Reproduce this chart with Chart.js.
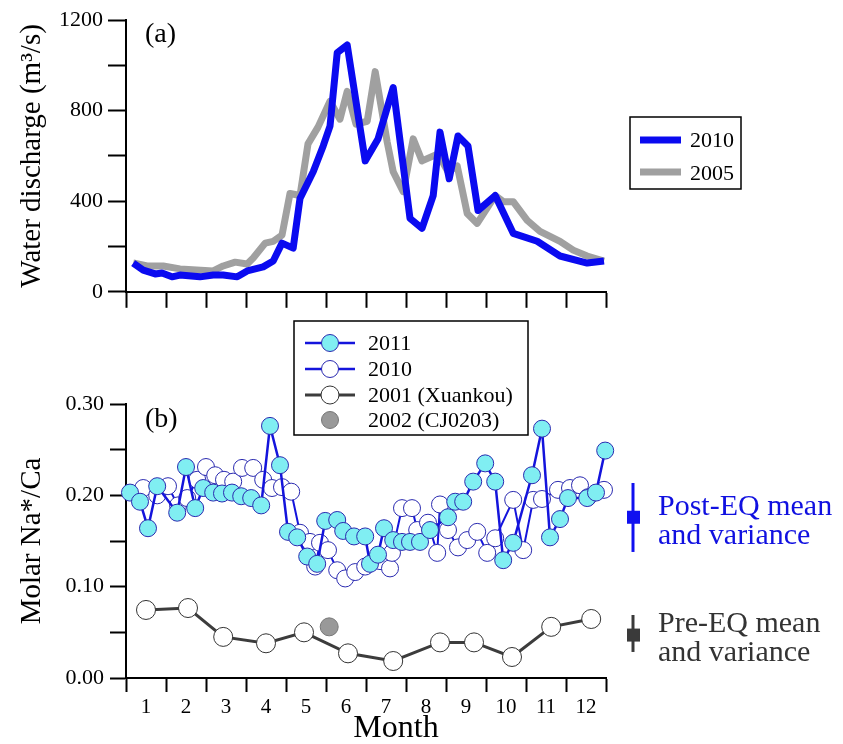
<!DOCTYPE html>
<html>
<head>
<meta charset="utf-8">
<script src="https://cdn.jsdelivr.net/npm/chart.js@4.4.1/dist/chart.umd.min.js"></script>
<style>
  body { margin: 0; background: #fff; }
  #wrap { position: relative; width: 843px; height: 744px; }
  #topChart { position: absolute; left: 0; top: 0; }
  #bottomChart { position: absolute; left: 0; top: 310px; }
</style>
</head>
<body>
<div id="wrap">
  <canvas id="topChart" width="843" height="310"></canvas>
  <canvas id="bottomChart" width="843" height="434"></canvas>
</div>
<script>
'use strict';

/* (a) water discharge, month position + value */
const q2010Month = [0.18, 0.43, 0.73, 0.9, 1.15, 1.35, 1.85, 2.18, 2.43, 2.78, 3.03, 3.43, 3.68, 3.9, 4.18, 4.35, 4.68, 4.93, 5.1, 5.28, 5.53, 5.98, 6.3, 6.68, 7.1, 7.4, 7.68, 7.85, 8.08, 8.3, 8.55, 8.8, 9.23, 9.68, 10.28, 10.85, 11.53, 11.95];
const q2010 = [127, 96, 79, 83, 66, 74, 66, 74, 74, 66, 92, 110, 136, 215, 193, 412, 530, 644, 731, 1055, 1090, 578, 675, 902, 324, 280, 425, 705, 499, 688, 644, 359, 425, 258, 223, 158, 127, 136];
const q2005Month = [0.18, 0.53, 0.93, 1.35, 2.18, 2.43, 2.73, 3.03, 3.18, 3.48, 3.68, 3.9, 4.1, 4.35, 4.55, 4.8, 5.1, 5.35, 5.53, 5.75, 6.03, 6.23, 6.53, 6.68, 6.93, 7.18, 7.4, 7.8, 8.05, 8.28, 8.53, 8.78, 9.23, 9.43, 9.68, 10.03, 10.35, 10.85, 11.18, 11.53, 11.95];
const q2005 = [127, 114, 114, 101, 92, 114, 131, 123, 149, 215, 223, 250, 434, 425, 653, 727, 841, 762, 885, 740, 753, 972, 661, 530, 442, 675, 578, 609, 530, 556, 346, 302, 425, 398, 398, 315, 267, 223, 184, 158, 136];

// (b) molar Na* over Ca
const na2011Month = [0.1, 0.35, 0.55, 0.78, 1.28, 1.5, 1.73, 1.93, 2.18, 2.4, 2.65, 2.88, 3.13, 3.38, 3.6, 3.85, 4.05, 4.28, 4.53, 4.78, 4.98, 5.28, 5.43, 5.7, 5.98, 6.1, 6.3, 6.45, 6.68, 6.9, 7.1, 7.35, 7.6, 8.05, 8.23, 8.43, 8.68, 8.98, 9.23, 9.43, 9.68, 10.15, 10.4, 10.6, 10.85, 11.05, 11.53, 11.75, 11.98];
const na2011 = [0.203, 0.193, 0.164, 0.210, 0.181, 0.231, 0.186, 0.208, 0.203, 0.202, 0.203, 0.199, 0.197, 0.189, 0.276, 0.233, 0.160, 0.154, 0.133, 0.125, 0.172, 0.173, 0.161, 0.155, 0.155, 0.125, 0.135, 0.164, 0.151, 0.149, 0.149, 0.149, 0.162, 0.176, 0.193, 0.193, 0.215, 0.235, 0.215, 0.129, 0.148, 0.222, 0.273, 0.154, 0.174, 0.197, 0.197, 0.203, 0.249];
const na2010Month = [0.43, 0.78, 1.05, 1.3, 1.53, 1.78, 2.0, 2.23, 2.45, 2.68, 2.9, 3.18, 3.43, 3.65, 3.9, 4.13, 4.35, 4.6, 4.73, 4.85, 5.05, 5.28, 5.48, 5.73, 5.98, 6.35, 6.6, 6.65, 6.9, 7.15, 7.28, 7.55, 7.78, 7.85, 8.05, 8.3, 8.53, 8.78, 9.03, 9.23, 9.68, 9.93, 10.18, 10.4, 10.8, 11.1, 11.35, 11.55, 11.95];
const na2010 = [0.208, 0.200, 0.210, 0.189, 0.197, 0.217, 0.231, 0.222, 0.217, 0.215, 0.230, 0.230, 0.217, 0.208, 0.209, 0.204, 0.159, 0.149, 0.122, 0.148, 0.140, 0.118, 0.109, 0.116, 0.122, 0.128, 0.120, 0.137, 0.186, 0.186, 0.162, 0.170, 0.137, 0.190, 0.162, 0.143, 0.151, 0.160, 0.137, 0.153, 0.195, 0.140, 0.195, 0.196, 0.206, 0.208, 0.211, 0.198, 0.206];
const xuankouMonth = [0.5, 1.55, 2.43, 3.5, 4.45, 5.55, 6.68, 7.85, 8.7, 9.65, 10.63, 11.63];
const xuankou = [0.0745, 0.0766, 0.045, 0.038, 0.050, 0.027, 0.0186, 0.039, 0.039, 0.023, 0.056, 0.0646];
const cj0203Month = [5.08];
const cj0203 = [0.056];

// mean, low, high
const postEq = [0.176, 0.138, 0.2135];
const preEq = [0.047, 0.0285, 0.069];

const monthLabels = ['1', '2', '3', '4', '5', '6', '7', '8', '9', '10', '11', '12'];

const serif = "'Liberation Serif', 'Times New Roman', serif";
const blue = '#0a0af0';

function toPoints(xs, ys) {
    return xs.map(function(x, i) { return { x: x, y: ys[i] }; });
}

function xScale(showLabels, tickLen) {
    return {
        type: 'linear', min: 0, max: 12,
        border: { display: true, color: '#000', width: 2 },
        grid: { drawOnChartArea: false, drawTicks: true, tickLength: tickLen, tickColor: '#000', tickWidth: 2 },
        ticks: {
            stepSize: 1, autoSkip: false, maxRotation: 0, color: '#000', padding: 3,
            labelOffset: 20,
            font: { family: serif, size: 21 },
            callback: function(v) { return showLabels ? (monthLabels[v] || '') : ''; }
        }
    };
}

/*top panel*/

const topDecor = {
    id: 'topDecor',
    afterDraw: function(chart) {
        const ctx = chart.ctx;
        ctx.save();
        ctx.fillStyle = '#000';
        ctx.font = '28px ' + serif;
        ctx.textBaseline = 'alphabetic';
        ctx.fillText('(a)', 145, 42);

        // legend box
        ctx.strokeStyle = '#000';
        ctx.lineWidth = 1.5;
        ctx.strokeRect(630, 117, 111, 72);
        ctx.lineCap = 'butt';
        ctx.lineWidth = 7;
        ctx.strokeStyle = blue;
        ctx.beginPath(); ctx.moveTo(640, 140); ctx.lineTo(681, 140); ctx.stroke();
        ctx.strokeStyle = '#a0a0a0';
        ctx.beginPath(); ctx.moveTo(640, 172); ctx.lineTo(681, 172); ctx.stroke();
        ctx.font = '22px ' + serif;
        ctx.textBaseline = 'middle';
        ctx.fillText('2010', 690, 141);
        ctx.fillText('2005', 690, 174);
        ctx.restore();
    }
};

new Chart(document.getElementById('topChart'), {
    type: 'line',
    data: {
        datasets: [{
            label: '2010',
            data: toPoints(q2010Month, q2010),
            borderColor: blue,
            borderWidth: 7,
            pointRadius: 0,
            borderJoinStyle: 'round',
            clip: false
        },
        {
            label: '2005',
            data: toPoints(q2005Month, q2005),
            borderColor: '#a0a0a0',
            borderWidth: 7,
            pointRadius: 0,
            borderJoinStyle: 'round',
            clip: false
        }]
    },
    options: {
        responsive: false,
        animation: false,
        layout: { padding: { left: 0, right: 237, top: 20, bottom: 0 } },
        plugins: { legend: { display: false }, tooltip: { enabled: false } },
        scales: {
            x: Object.assign(xScale(false, 16), { afterFit: function(s) { s.height = 16; } }),
            y: {
                min: 0, max: 1200,
                border: { display: true, color: '#000', width: 2 },
                grid: { drawOnChartArea: false, drawTicks: true, tickLength: 18, tickColor: '#000', tickWidth: 2 },
                ticks: {
                    stepSize: 200, color: '#000', padding: 5,
                    font: { family: serif, size: 22 },
                    callback: function(v) { return v % 400 === 0 ? String(v) : ''; }
                },
                title: {
                    display: true, text: 'Water discharge (m\u00b3/s)', color: '#000',
                    font: { family: serif, size: 29 }, padding: { top: 15, bottom: 0 }
                },
                afterFit: function(s) { s.width = 126; }
            }
        }
    },
    plugins: [topDecor]
});

/*bottom panel*/

const bottomDecor = {
    id: 'bottomDecor',
    afterDraw: function(chart) {
        const ctx = chart.ctx;
        const y = chart.scales.y;
        ctx.save();
        ctx.fillStyle = '#000';
        ctx.font = '28px ' + serif;
        ctx.fillText('(b)', 145, 117);

        ctx.font = '32px ' + serif;
        ctx.textAlign = 'center';
        ctx.fillText('Month', 396, 427);
        ctx.textAlign = 'left';

        // legend
        ctx.fillStyle = '#fff';
        ctx.fillRect(294, 11, 234, 114);
        ctx.strokeStyle = '#000';
        ctx.lineWidth = 1.5;
        ctx.strokeRect(294, 11, 234, 114);

        const rows = [
            { text: '2011', line: '#1414dc', fill: '#80eef2', edge: '#2a2ab0', lw: 2.5, r: 8.5 },
            { text: '2010', line: '#1414dc', fill: '#fff', edge: '#2a2ab0', lw: 2.5, r: 8.5 },
            { text: '2001 (Xuankou)', line: '#3c3c3c', fill: '#fff', edge: '#333', lw: 3, r: 9 },
            { text: '2002 (CJ0203)', line: null, fill: '#999', edge: '#777', lw: 0, r: 8.5 }
        ];
        const rowY = [33, 59, 85, 110];
        ctx.textBaseline = 'middle';
        ctx.font = '22px ' + serif;
        rows.forEach(function(row, i) {
            const ry = rowY[i];
            if (row.line) {
                ctx.strokeStyle = row.line;
                ctx.lineWidth = row.lw;
                ctx.beginPath(); ctx.moveTo(305, ry); ctx.lineTo(355, ry); ctx.stroke();
            }
            ctx.beginPath();
            ctx.arc(330, ry, row.r, 0, Math.PI * 2);
            ctx.fillStyle = row.fill;
            ctx.fill();
            ctx.lineWidth = 1;
            ctx.strokeStyle = row.edge;
            ctx.stroke();
            ctx.fillStyle = '#000';
            ctx.fillText(row.text, 368, ry + 1);
        });

        // mean and variance bars
        function meanBar(vals, color) {
            const m = y.getPixelForValue(vals[0]);
            const lo = y.getPixelForValue(vals[1]);
            const hi = y.getPixelForValue(vals[2]);
            ctx.strokeStyle = color;
            ctx.lineWidth = 3;
            ctx.beginPath(); ctx.moveTo(633, lo); ctx.lineTo(633, hi); ctx.stroke();
            ctx.fillStyle = color;
            ctx.fillRect(627, m - 6.5, 13, 13);
        }
        meanBar(postEq, '#1010f0');
        meanBar(preEq, '#3a3a3a');

        ctx.textBaseline = 'alphabetic';
        ctx.font = '30px ' + serif;
        ctx.fillStyle = '#1010e0';
        ctx.fillText('Post-EQ mean', 658, 205);
        ctx.fillText('and variance', 658, 234);
        ctx.fillStyle = '#333';
        ctx.fillText('Pre-EQ mean', 658, 322);
        ctx.fillText('and variance', 658, 351);
        ctx.restore();
    }
};

new Chart(document.getElementById('bottomChart'), {
    type: 'line',
    data: {
        datasets: [{
            label: '2011',
            data: toPoints(na2011Month, na2011),
            borderColor: '#1414dc',
            borderWidth: 2.5,
            pointRadius: 8.5,
            pointBackgroundColor: '#80eef2',
            pointBorderColor: '#2a2ab0',
            pointBorderWidth: 1,
            order: 0,
            clip: false
        },
        {
            label: '2010',
            data: toPoints(na2010Month, na2010),
            borderColor: '#1414dc',
            borderWidth: 2,
            pointRadius: 8.5,
            pointBackgroundColor: '#fff',
            pointBorderColor: '#2a2ab0',
            pointBorderWidth: 1,
            order: 1,
            clip: false
        },
        {
            label: '2001 (Xuankou)',
            data: toPoints(xuankouMonth, xuankou),
            borderColor: '#3c3c3c',
            borderWidth: 3,
            pointRadius: 9.5,
            pointBackgroundColor: '#fff',
            pointBorderColor: '#333',
            pointBorderWidth: 1,
            order: 2,
            clip: false
        },
        {
            label: '2002 (CJ0203)',
            data: toPoints(cj0203Month, cj0203),
            showLine: false,
            pointRadius: 9,
            pointBackgroundColor: '#999',
            pointBorderColor: '#777',
            pointBorderWidth: 1,
            order: 3,
            clip: false
        }]
    },
    options: {
        responsive: false,
        animation: false,
        layout: { padding: { left: 0, right: 237, top: 94, bottom: 0 } },
        plugins: { legend: { display: false }, tooltip: { enabled: false } },
        scales: {
            x: Object.assign(xScale(true, 14), { afterFit: function(s) { s.height = 66; } }),
            y: {
                min: 0, max: 0.3,
                border: { display: true, color: '#000', width: 2 },
                grid: { drawOnChartArea: false, drawTicks: true, tickLength: 16, tickColor: '#000', tickWidth: 2 },
                ticks: {
                    stepSize: 0.05, color: '#000', padding: 6,
                    font: { family: serif, size: 22 },
                    callback: function(v) {
                        const k = Math.round(v * 100);
                        return k % 10 === 0 ? (k / 100).toFixed(2) : '';
                    }
                },
                title: {
                    display: true, text: 'Molar Na*/Ca', color: '#000',
                    font: { family: serif, size: 29 }, padding: { top: 15, bottom: 0 }
                },
                afterFit: function(s) { s.width = 126; }
            }
        }
    },
    plugins: [bottomDecor]
});
</script>
</body>
</html>
